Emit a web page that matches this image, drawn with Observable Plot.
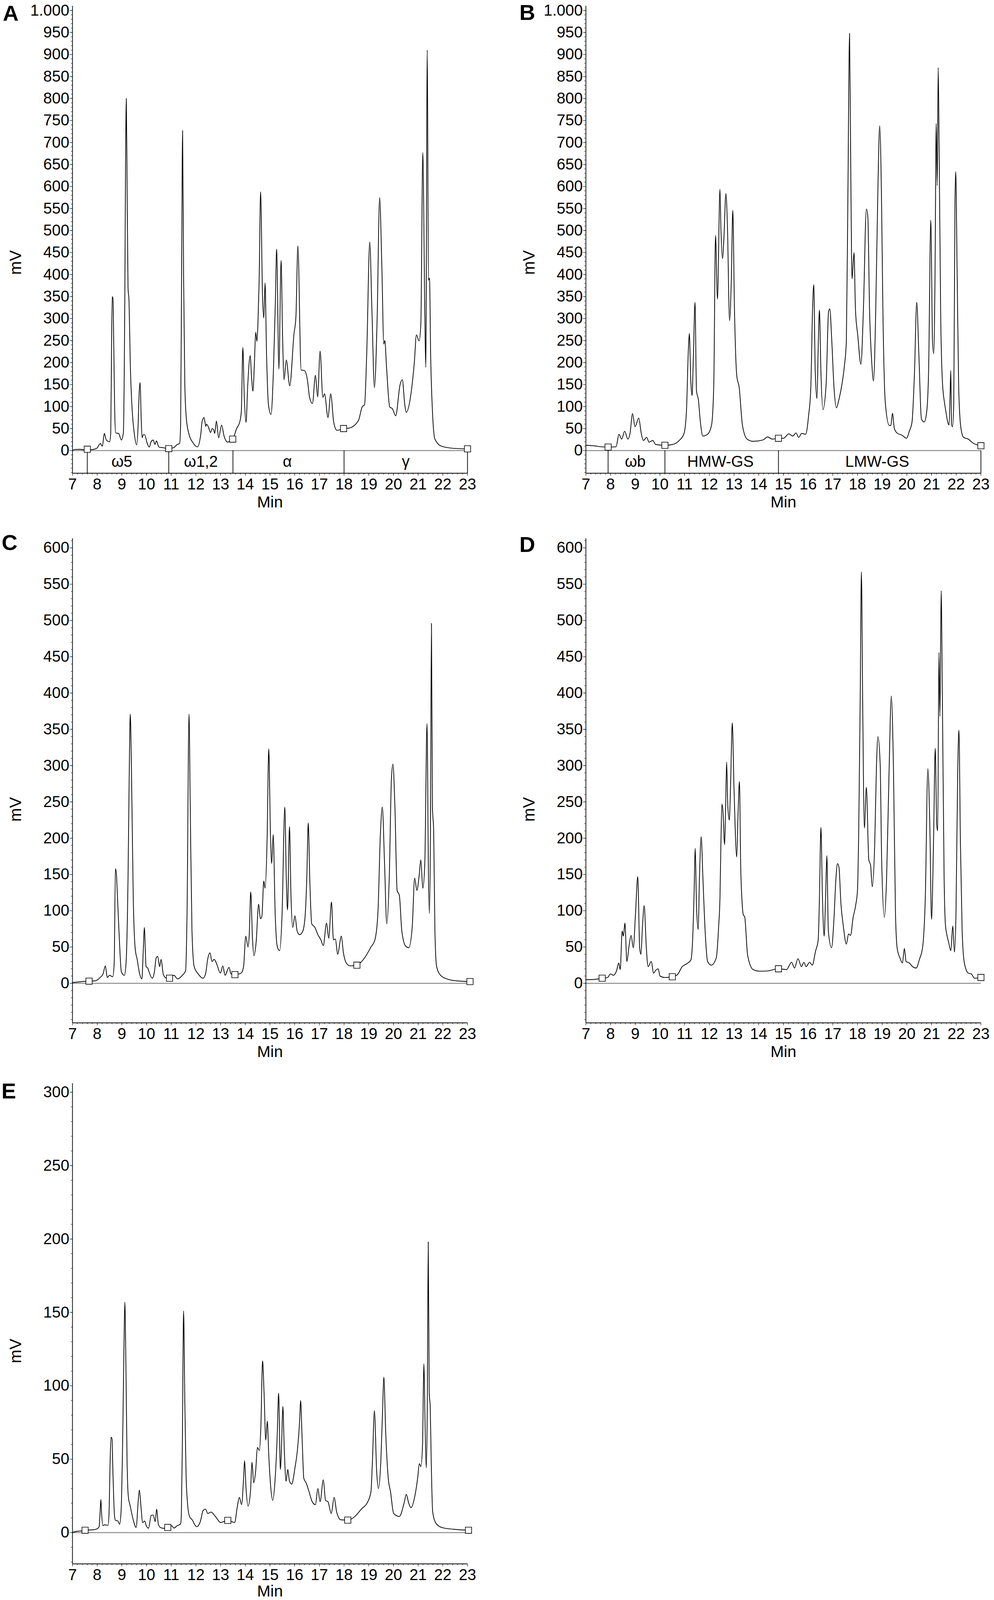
<!DOCTYPE html>
<html>
<head>
<meta charset="utf-8">
<script src="https://cdn.jsdelivr.net/npm/d3@7"></script>
<script src="https://cdn.jsdelivr.net/npm/@observablehq/plot@0.6"></script>
<style>
  html, body { margin: 0; padding: 0; background: #fff; overflow: hidden; }
  #page { position: relative; width: 2544px; background: #fff; overflow: hidden; }
  #page > div { position: absolute; line-height: 0; }
</style>
</head>
<body>
<div id="page"></div>
<script>
// ---------- DATA (retention time in min, signal in mV) ----------
const traceA = [[7.00,0.5],[7.10,2.5],[7.30,2.8],[7.45,2],[7.60,3],[7.76,2],[7.98,5],[8.13,16],[8.21,10],[8.29,39],[8.37,24],[8.50,20],[8.55,40],[8.58,220],[8.61,350],[8.64,345],[8.67,250],[8.71,90],[8.75,40],[8.87,39],[8.98,24],[9.06,40],[9.12,350],[9.15,650],[9.18,800],[9.21,620],[9.25,370],[9.29,340],[9.34,200],[9.42,90],[9.50,40],[9.60,13],[9.66,60],[9.70,130],[9.74,155],[9.78,80],[9.82,29],[9.87,36],[9.92,36],[10.03,16],[10.11,8],[10.19,21],[10.27,24],[10.34,14],[10.40,22],[10.50,8],[10.67,6.5],[10.88,4.5],[11.09,6.5],[11.25,14],[11.34,16],[11.38,60],[11.42,400],[11.46,727],[11.50,400],[11.55,150],[11.61,74],[11.72,37],[11.88,18],[12.06,8.4],[12.20,39],[12.25,66],[12.33,75],[12.40,55],[12.43,60],[12.51,53],[12.59,41],[12.66,50],[12.72,47],[12.76,39],[12.83,67],[12.92,29],[13.04,58],[13.14,33],[13.29,19],[13.38,22],[13.49,26],[13.65,50],[13.78,66],[13.84,90],[13.90,234],[13.96,120],[14.03,64],[14.10,150],[14.20,216],[14.25,170],[14.31,135],[14.37,200],[14.42,269],[14.47,248],[14.51,285],[14.56,385],[14.62,588],[14.70,345],[14.75,301],[14.80,381],[14.86,220],[14.94,103],[15.04,82],[15.14,183],[15.22,345],[15.27,458],[15.36,185],[15.45,432],[15.51,260],[15.57,161],[15.66,206],[15.80,147],[15.97,264],[16.05,304],[16.13,465],[16.26,183],[16.39,182],[16.52,159],[16.60,122],[16.72,107],[16.84,171],[16.93,122],[17.03,226],[17.14,121],[17.21,129],[17.35,75],[17.46,129],[17.58,65],[17.71,46],[17.98,50],[18.20,51],[18.58,68],[18.74,100],[18.83,104],[18.92,224],[19.04,474],[19.13,316],[19.23,143],[19.34,300],[19.44,575],[19.53,420],[19.61,242],[19.65,250],[19.72,190],[19.85,99],[19.96,95],[20.09,79],[20.27,150],[20.36,161],[20.46,104],[20.52,87],[20.70,125],[20.85,203],[20.93,263],[21.04,249],[21.11,288],[21.19,677],[21.27,316],[21.31,189],[21.37,910],[21.42,387],[21.46,392],[21.51,210],[21.58,90],[21.68,26],[21.94,10],[22.45,5],[23.00,4]];

const traceB = [[7.00,12],[7.30,11],[7.64,8.5],[7.90,8],[8.22,8.5],[8.34,37],[8.45,26],[8.57,44],[8.70,26],[8.79,40],[8.89,84],[8.99,54],[9.14,74],[9.24,40],[9.33,23],[9.46,30],[9.56,19],[9.71,23],[9.82,14],[10.20,12],[10.52,14],[10.78,23],[10.97,38],[11.07,86],[11.15,228],[11.19,266],[11.25,157],[11.30,125],[11.35,206],[11.42,337],[11.48,136],[11.56,114],[11.63,69],[11.74,33],[11.93,37],[12.09,58],[12.18,150],[12.25,489],[12.33,344],[12.43,594],[12.47,503],[12.53,436],[12.59,482],[12.67,584],[12.73,517],[12.82,295],[12.89,387],[12.95,546],[13.02,316],[13.11,171],[13.21,143],[13.34,58],[13.53,26],[13.78,21],[14.17,24],[14.36,31],[14.55,26],[14.76,28],[15.00,28],[15.22,38],[15.38,33],[15.51,40],[15.62,30],[15.74,39],[15.90,37],[16.02,79],[16.11,143],[16.18,319],[16.23,377],[16.29,178],[16.36,118],[16.41,235],[16.46,319],[16.52,178],[16.60,93],[16.73,150],[16.83,316],[16.88,322],[16.96,249],[17.05,143],[17.15,97],[17.24,114],[17.37,150],[17.47,192],[17.55,249],[17.61,567],[17.68,948],[17.73,630],[17.78,390],[17.86,450],[17.92,319],[18.01,263],[18.14,196],[18.24,319],[18.36,549],[18.42,531],[18.49,319],[18.58,199],[18.65,158],[18.74,319],[18.83,602],[18.90,738],[18.97,588],[19.03,319],[19.13,107],[19.29,57],[19.35,57],[19.42,85],[19.49,51],[19.60,40],[19.80,35],[19.99,28],[20.10,44],[20.21,65],[20.31,178],[20.40,337],[20.49,213],[20.59,72],[20.70,65],[20.80,86],[20.88,178],[20.97,524],[21.04,249],[21.09,220],[21.14,390],[21.19,743],[21.23,602],[21.27,870],[21.31,673],[21.37,312],[21.44,157],[21.53,107],[21.59,86],[21.66,64],[21.71,58],[21.75,125],[21.78,182],[21.81,61],[21.85,54],[21.90,107],[21.95,567],[21.98,634],[22.04,390],[22.10,143],[22.19,51],[22.30,30],[22.49,26],[22.68,17],[23.00,11]];

const traceC = [[7.00,1],[7.41,2.4],[7.67,3],[7.92,3.4],[8.12,8],[8.24,13],[8.33,24],[8.41,8],[8.50,11],[8.63,9],[8.69,28],[8.74,158],[8.78,150],[8.82,121],[8.89,67],[8.98,16],[9.10,11],[9.17,28],[9.25,145],[9.30,292],[9.34,371],[9.39,292],[9.46,121],[9.54,48],[9.62,33],[9.72,13],[9.81,6],[9.87,48],[9.91,77],[9.98,23],[10.05,21],[10.10,16],[10.23,7],[10.32,16],[10.39,35],[10.45,37],[10.53,23],[10.59,33],[10.68,12],[10.81,7],[10.93,7],[11.11,11],[11.26,6],[11.45,11],[11.58,17],[11.64,96],[11.72,371],[11.77,243],[11.84,72],[11.93,23],[12.09,13],[12.29,7],[12.39,13],[12.48,34],[12.57,42],[12.65,30],[12.74,33],[12.86,25],[12.99,14],[13.09,24],[13.18,11],[13.34,22],[13.42,13],[13.58,12],[13.83,14],[13.93,23],[14.02,65],[14.11,50],[14.16,67],[14.22,126],[14.29,62],[14.35,38],[14.44,57],[14.54,109],[14.61,89],[14.67,92],[14.75,141],[14.80,131],[14.88,194],[14.95,323],[15.02,204],[15.07,165],[15.13,205],[15.21,96],[15.30,50],[15.39,45],[15.49,96],[15.60,243],[15.66,145],[15.71,101],[15.79,216],[15.85,121],[15.92,77],[16.01,93],[16.10,72],[16.20,67],[16.33,72],[16.43,96],[16.49,145],[16.55,221],[16.61,145],[16.69,82],[16.82,77],[16.94,67],[17.06,60],[17.16,52],[17.29,83],[17.38,62],[17.49,112],[17.57,60],[17.65,61],[17.74,40],[17.89,65],[17.97,43],[18.09,28],[18.25,24],[18.52,25],[18.83,35],[19.09,50],[19.25,60],[19.37,96],[19.47,204],[19.55,243],[19.64,165],[19.73,82],[19.83,145],[19.92,283],[19.98,302],[20.06,243],[20.15,128],[20.24,121],[20.34,72],[20.50,51],[20.62,49],[20.76,77],[20.86,145],[20.95,128],[21.04,148],[21.11,170],[21.19,131],[21.27,165],[21.36,358],[21.42,145],[21.46,96],[21.50,209],[21.54,496],[21.58,243],[21.63,209],[21.68,72],[21.75,23],[21.91,11],[22.17,6],[22.55,3.4],[23.10,2.4]];

const traceD = [[7.00,5],[7.36,5.4],[7.66,7],[7.88,8],[8.00,13],[8.11,11],[8.24,17],[8.33,28],[8.39,19],[8.47,72],[8.52,65],[8.58,83],[8.66,30],[8.75,52],[8.83,66],[8.92,49],[9.01,96],[9.10,147],[9.18,48],[9.23,40],[9.29,77],[9.36,107],[9.45,48],[9.52,23],[9.65,30],[9.74,14],[9.83,18],[9.93,20],[10.00,10],[10.19,8],[10.50,9],[10.71,12],[10.90,23],[11.09,27],[11.25,32],[11.32,57],[11.38,121],[11.43,186],[11.48,106],[11.55,74],[11.60,145],[11.67,202],[11.74,145],[11.83,72],[11.93,30],[12.08,25],[12.28,35],[12.38,80],[12.43,117],[12.47,194],[12.51,247],[12.55,238],[12.62,191],[12.66,243],[12.70,305],[12.75,243],[12.81,225],[12.86,273],[12.93,359],[13.00,268],[13.11,174],[13.16,230],[13.22,278],[13.27,163],[13.33,110],[13.38,94],[13.43,92],[13.55,39],[13.77,19],[14.04,16.6],[14.35,17],[14.80,20],[15.13,19],[15.33,29],[15.45,21],[15.59,34],[15.73,23],[15.83,29],[15.92,23],[16.06,29],[16.17,25],[16.30,44],[16.41,60],[16.46,118],[16.52,215],[16.58,121],[16.65,65],[16.71,121],[16.76,176],[16.82,72],[16.95,49],[17.05,90],[17.12,140],[17.19,165],[17.25,160],[17.33,110],[17.43,78],[17.55,54],[17.64,68],[17.72,66],[17.82,90],[17.93,108],[18.00,128],[18.05,209],[18.11,390],[18.16,567],[18.21,390],[18.28,214],[18.36,270],[18.46,170],[18.53,163],[18.60,133],[18.70,194],[18.77,300],[18.83,340],[18.92,302],[18.98,170],[19.09,91],[19.18,145],[19.28,292],[19.37,396],[19.46,292],[19.54,96],[19.61,48],[19.72,35],[19.82,28],[19.90,48],[19.97,30],[20.10,28],[20.23,23],[20.38,21],[20.51,33],[20.64,50],[20.75,121],[20.85,296],[20.93,219],[21.00,88],[21.08,194],[21.15,324],[21.21,219],[21.25,210],[21.30,456],[21.34,368],[21.39,541],[21.44,390],[21.51,145],[21.56,82],[21.62,67],[21.69,57],[21.78,45],[21.86,79],[21.93,43],[21.99,96],[22.06,292],[22.11,349],[22.17,194],[22.24,72],[22.33,28],[22.49,14],[22.61,13],[22.74,7],[23.00,8]];

const traceE = [[7.00,0.2],[7.23,1],[7.38,1.2],[7.51,1.6],[7.71,1.8],[7.87,2],[8.00,2.6],[8.08,4],[8.11,11],[8.15,22.6],[8.18,13],[8.23,4.7],[8.29,5.3],[8.44,5],[8.48,13],[8.52,45],[8.56,65],[8.60,64],[8.64,40],[8.70,12],[8.74,8.3],[8.84,7.9],[8.91,5.7],[8.97,15],[9.03,60],[9.08,120],[9.12,157],[9.16,120],[9.21,50],[9.26,25],[9.34,18],[9.45,9.4],[9.58,3.5],[9.66,21],[9.71,29],[9.78,16.5],[9.84,6.7],[9.92,7.9],[9.99,4.7],[10.08,3],[10.19,11.8],[10.27,12],[10.35,7.5],[10.41,16],[10.48,5.5],[10.58,3.3],[10.72,2.9],[10.86,3.5],[11.01,4.7],[11.11,3.1],[11.24,4.7],[11.38,5.9],[11.41,13],[11.45,60],[11.50,151],[11.55,90],[11.60,40],[11.66,20],[11.74,11],[11.85,8.7],[11.98,4.7],[12.03,4],[12.18,7.6],[12.29,15],[12.39,16],[12.48,13],[12.61,14],[12.74,12],[12.86,9.4],[12.99,6.9],[13.29,8.3],[13.57,6.9],[13.67,17],[13.76,24],[13.85,19],[13.93,37],[13.97,49],[14.03,30],[14.11,18],[14.21,28],[14.27,48],[14.34,34],[14.42,42],[14.49,58],[14.57,56],[14.63,72],[14.70,117],[14.76,95],[14.83,63],[14.89,76],[14.95,53],[15.02,33],[15.11,22],[15.21,37],[15.29,65],[15.35,95],[15.42,43],[15.47,60],[15.52,86],[15.58,56],[15.65,35],[15.72,43],[15.79,35],[15.88,33],[16.01,44],[16.11,56],[16.20,76],[16.24,90],[16.30,65],[16.37,37],[16.46,34],[16.58,28],[16.71,21],[16.84,19],[16.94,30],[17.03,21],[17.16,36],[17.25,22],[17.35,21],[17.48,13],[17.60,24],[17.70,14],[17.87,8.7],[18.15,8.5],[18.44,11],[18.70,16],[18.96,21],[19.09,28],[19.15,49],[19.23,83],[19.32,42],[19.39,30],[19.49,49],[19.56,83],[19.61,106],[19.69,67],[19.79,37],[19.88,28],[20.01,13],[20.24,11],[20.43,20],[20.52,26],[20.62,20],[20.71,17],[20.88,26],[20.98,37],[21.05,47],[21.11,45],[21.18,60],[21.23,115],[21.29,67],[21.33,44],[21.37,83],[21.41,198],[21.45,95],[21.49,86],[21.53,49],[21.59,14],[21.72,6.4],[21.97,3.4],[22.42,2.3],[23.04,1.6]];

// integration markers (time, mV)
const markersA = [[7.6,3],[10.9,4.5],[13.49,26],[17.98,50],[23.0,4]];
const markersB = [[7.9,8],[10.2,12],[14.8,28],[23.0,11]];
const markersC = [[7.67,3],[10.93,7],[13.58,12],[18.52,25],[23.1,2.4]];
const markersD = [[7.66,7],[10.5,9],[14.8,20],[23.0,8]];
const markersE = [[7.51,1.6],[10.86,3.5],[13.29,8.3],[18.15,8.5],[23.04,1.6]];

// fraction bands (panels A and B)
const dividersA = [7.6, 10.9, 13.5, 18.0, 23.0];
const bandLabelsA = ["ω5", "ω1,2", "α", "γ"];
const bandCentersA = [9.0, 12.2, 15.7, 20.5];
const dividersB = [7.9, 10.2, 14.8, 23.0];
const bandLabelsB = ["ωb", "HMW-GS", "LMW-GS"];
const bandCentersB = [9.0, 12.45, 18.8];

// axis ticks
const xMajor = d3.range(7, 23.001, 1);
const xMinor = d3.range(7, 23.001, 0.2);
const yMajorAB = d3.range(0, 1000.1, 50), yMinorAB = d3.range(-50, 1000.1, 10);
const yMajorCD = d3.range(0, 600.1, 50),  yMinorCD = d3.range(-50, 610.1, 10);
const yMajorE  = d3.range(0, 300.1, 50),  yMinorE  = d3.range(-20, 300.1, 10);

// ---------- DRAWING ----------
const FONT = "'Liberation Sans', Arial, Helvetica, sans-serif";
const PAGE_H = 4601;
const vh = window.innerHeight;
const K = (vh > 1500 && vh < PAGE_H) ? vh / PAGE_H : 1;   // fit the page to the viewport height
const page = document.getElementById("page");
page.style.height = Math.round(PAGE_H * K) + "px";

function panel(cfg) {
  const pts = cfg.trace.map(([t, v]) => ({t, v}));
  const mk = cfg.markers.map(([t, v]) => ({t, v}));
  const yMin = cfg.yDomain[0];
  const marks = [
    Plot.ruleY([0], {stroke: "#8c8c8c", strokeWidth: 2.5}),
  ];
  if (cfg.dividers) {
    marks.push(Plot.ruleX(cfg.dividers, {y1: 0, y2: yMin, stroke: "black", strokeWidth: 1.8}));
    marks.push(Plot.text(cfg.bandLabels, {x: (d, i) => cfg.bandCenters[i], y: () => yMin / 2, text: d => d, fontSize: 40, lineAnchor: "middle"}));
  }
  marks.push(
    Plot.line(pts, {x: "t", y: "v", stroke: "black", strokeWidth: 1.9, curve: "monotone-x"}),
    Plot.dot(mk, {x: "t", y: "v", symbol: "square", r: 9, fill: "white", stroke: "black", strokeWidth: 1.6}),
    Plot.axisY({ticks: cfg.yMinor, tickSize: 3.5, fill: "none", label: null}),
    Plot.axisY({ticks: cfg.yMajor, tickSize: 7, tickPadding: 1, label: null,
      tickFormat: d => d === 1000 ? "1.000" : String(d)}),
    Plot.axisX({ticks: xMinor, tickSize: 4, fill: "none", label: null}),
    Plot.axisX({ticks: xMajor, tickSize: 7, tickPadding: 6, label: null, tickFormat: d => String(d)}),
    Plot.ruleX([7], {stroke: "black", strokeWidth: 1.8}),
    Plot.ruleY([yMin], {stroke: "black", strokeWidth: 1.8}),
    Plot.text(["mV"], {frameAnchor: "left", dx: -145, dy: cfg.mvDy * K, rotate: -90, text: d => d, fontSize: 42}),
    Plot.text(["Min"], {frameAnchor: "bottom", dy: cfg.minDy, text: d => d, fontSize: 41, lineAnchor: "middle"}),
    Plot.text([cfg.letter], {frameAnchor: "top-left", dx: cfg.letterDx, dy: cfg.letterDy * K, text: d => d,
      fontSize: 56, fontWeight: "bold", lineAnchor: "middle", textAnchor: "middle"})
  );
  const svg = Plot.plot({
    width: 1230,
    height: Math.round(cfg.height * K),
    marginLeft: 185,
    marginRight: 34,
    marginTop: Math.round(cfg.marginTop * K),
    marginBottom: Math.round(cfg.marginBottom * K),
    x: {domain: [7, 23]},
    y: {domain: cfg.yDomain},
    style: {fontFamily: FONT, fontSize: "40px", color: "black", background: "white"},
    marks
  });
  const holder = document.createElement("div");
  holder.style.left = cfg.left + "px";
  holder.style.top = Math.round(cfg.top * K) + "px";
  holder.appendChild(svg);
  page.appendChild(holder);
}

panel({letter: "A", trace: traceA, markers: markersA, dividers: dividersA, bandLabels: bandLabelsA, bandCenters: bandCentersA,
  yDomain: [-51.5, 1010], yMajor: yMajorAB, yMinor: yMinorAB, left: 0, top: 0, height: 1480, marginTop: 17, marginBottom: 120,
  mvDy: 101, minDy: 74, letterDx: -158, letterDy: 22});
panel({letter: "B", trace: traceB, markers: markersB, dividers: dividersB, bandLabels: bandLabelsB, bandCenters: bandCentersB,
  yDomain: [-51.5, 1010], yMajor: yMajorAB, yMinor: yMinorAB, left: 1314, top: 0, height: 1480, marginTop: 17, marginBottom: 120,
  mvDy: 101, minDy: 74, letterDx: -150, letterDy: 20});
panel({letter: "C", trace: traceC, markers: markersC,
  yDomain: [-54.5, 613], yMajor: yMajorCD, yMinor: yMinorCD, left: 0, top: 1500, height: 1561, marginTop: 48, marginBottom: 120,
  mvDy: 118, minDy: 74, letterDx: -161, letterDy: 13});
panel({letter: "D", trace: traceD, markers: markersD,
  yDomain: [-54.5, 613], yMajor: yMajorCD, yMinor: yMinorCD, left: 1314, top: 1500, height: 1561, marginTop: 48, marginBottom: 120,
  mvDy: 118, minDy: 74, letterDx: -150, letterDy: 19});
panel({letter: "E", trace: traceE, markers: markersE,
  yDomain: [-21.3, 306], yMajor: yMajorE, yMinor: yMinorE, left: 0, top: 3060, height: 1541, marginTop: 55, marginBottom: 104,
  mvDy: 114, minDy: 70, letterDx: -163, letterDy: 23});
</script>
</body>
</html>
